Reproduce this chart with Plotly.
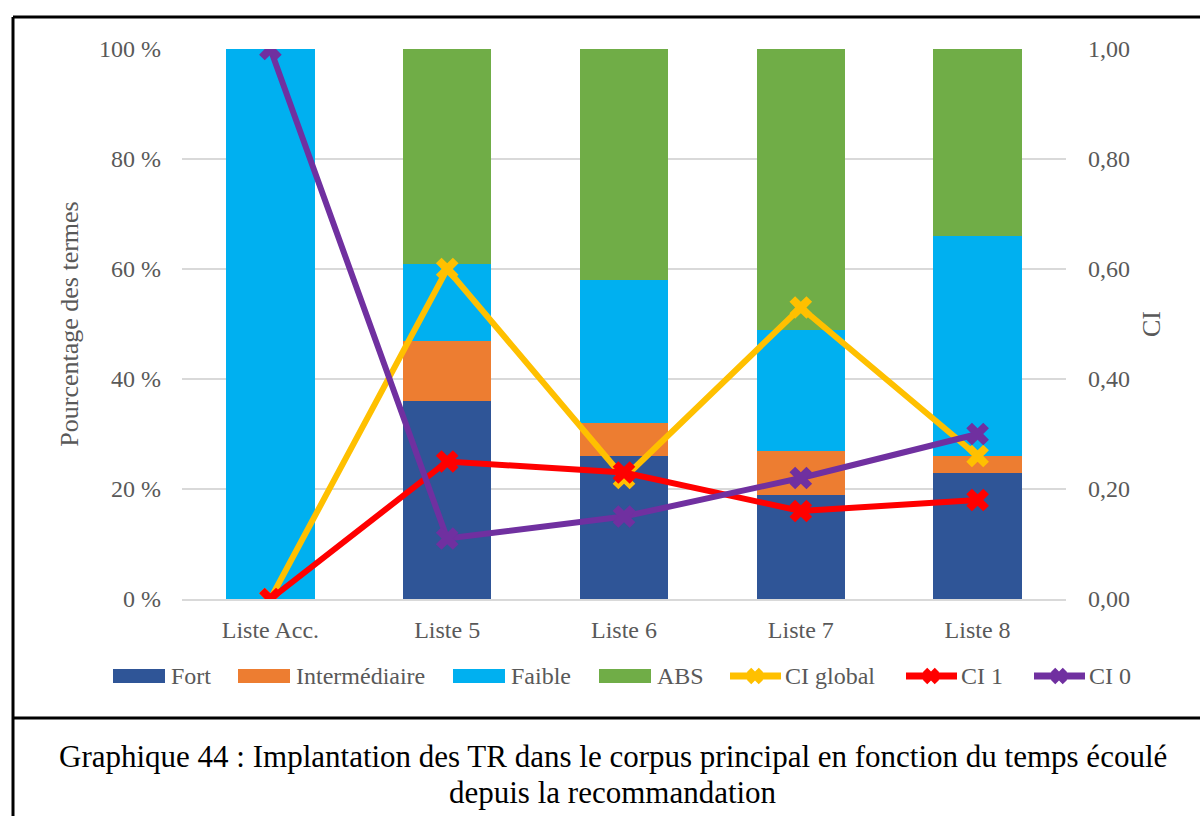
import math
import plotly.graph_objects as go
from plotly.subplots import make_subplots

categories = ["Liste Acc.", "Liste 5", "Liste 6", "Liste 7", "Liste 8"]

fort = [0, 36, 26, 19, 23]
intermediaire = [0, 11, 6, 8, 3]
faible = [100, 14, 26, 22, 40]
abs_ = [0, 39, 42, 51, 34]

ci_global = [0.00, 0.60, 0.22, 0.53, 0.26]
ci_1 = [0.00, 0.25, 0.23, 0.16, 0.18]
ci_0 = [1.00, 0.11, 0.15, 0.22, 0.30]

pct_ticks = [0, 20, 40, 60, 80, 100]
pct_labels = ["0 %", "20 %", "40 %", "60 %", "80 %", "100 %"]
ci_ticks = [0, 0.2, 0.4, 0.6, 0.8, 1.0]
ci_labels = ["0,00", "0,20", "0,40", "0,60", "0,80", "1,00"]

W, H = 1200, 816
L, R, T, B = 182, 1066, 49, 599
FONT = "Liberation Serif"
GREY = "#595959"


def px(x):
    return (x - L) / (R - L)


def py(y):
    return (B - y) / (B - T)


fig = make_subplots(specs=[[{"secondary_y": True}]])

bars = [
    ("Fort", fort, "#2F5597"),
    ("Intermédiaire", intermediaire, "#ED7D31"),
    ("Faible", faible, "#00B0F0"),
    ("ABS", abs_, "#70AD47"),
]
for name, vals, col in bars:
    fig.add_trace(
        go.Bar(x=categories, y=vals, name=name, showlegend=False,
               marker=dict(color=col, line=dict(width=0))),
        secondary_y=False,
    )

lines = [
    ("CI global", ci_global, "#FFC000"),
    ("CI 1", ci_1, "#FF0000"),
    ("CI 0", ci_0, "#7030A0"),
]
for name, vals, col in lines:
    fig.add_trace(
        go.Scatter(
            x=categories, y=vals, name=name, mode="lines+markers", showlegend=False,
            line=dict(color=col, width=6),
            marker=dict(symbol="x", size=20, color=col, line=dict(width=0)),
        ),
        secondary_y=True,
    )

fig.update_layout(
    width=W, height=H,
    margin=dict(l=L, r=W - R, t=T, b=H - B, pad=0, autoexpand=False),
    barmode="stack", bargap=0.5,
    plot_bgcolor="white", paper_bgcolor="white",
    font=dict(family=FONT, size=24, color=GREY),
    showlegend=False,
)

fig.update_xaxes(
    domain=[0, 1],
    showgrid=False, showline=True, linecolor="#d9d9d9", linewidth=1.5,
    ticks="", tickfont=dict(size=24, color=GREY), ticklabelstandoff=8,
    automargin=False,
)
fig.update_yaxes(
    range=[0, 100], tickvals=pct_ticks, ticktext=pct_labels,
    showgrid=True, gridcolor="#d9d9d9", gridwidth=1.5, zeroline=False,
    showline=False, ticks="", tickfont=dict(size=24, color=GREY), ticklabelstandoff=20,
    title=dict(text="Pourcentage des termes", font=dict(size=26, color=GREY), standoff=12),
    automargin=False,
    secondary_y=False,
)
fig.update_yaxes(
    range=[0, 1], tickvals=ci_ticks, ticktext=ci_labels,
    showgrid=False, zeroline=False, showline=False, ticks="",
    tickfont=dict(size=24, color=GREY), ticklabelstandoff=21,
    title=dict(text="CI", font=dict(size=26, color=GREY), standoff=12),
    automargin=False,
    secondary_y=True,
)


# ---- legend row drawn as keys + labels ----
def x_marker_path(half_len=8.5, half_w=3.2):
    pts = [(-half_w, -half_len), (half_w, -half_len), (half_w, -half_w), (half_len, -half_w),
           (half_len, half_w), (half_w, half_w), (half_w, half_len), (-half_w, half_len),
           (-half_w, half_w), (-half_len, half_w), (-half_len, -half_w), (-half_w, -half_w)]
    c = math.sqrt(0.5)
    rot = [((x - y) * c, (x + y) * c) for x, y in pts]
    return "M" + "L".join(f"{x:.2f},{y:.2f}" for x, y in rot) + "Z"


LEG_Y = 676
KEY_W = 54
key_starts = [113, 238, 453, 599, 727, 903, 1031]
entries = [(n, c, "bar") for n, _, c in bars] + [(n, c, "line") for n, _, c in lines]
xmark = x_marker_path()
for (name, col, kind), x0 in zip(entries, key_starts):
    if kind == "bar":
        fig.add_shape(type="rect", xref="paper", yref="paper",
                      x0=px(x0), x1=px(x0 + KEY_W - 2), y0=py(LEG_Y - 7), y1=py(LEG_Y + 7),
                      fillcolor=col, line=dict(width=0))
    else:
        fig.add_shape(type="line", xref="paper", yref="paper",
                      x0=px(x0 + 3), x1=px(x0 + KEY_W), y0=py(LEG_Y), y1=py(LEG_Y),
                      line=dict(color=col, width=7))
        fig.add_shape(type="path", xref="paper", yref="paper",
                      xsizemode="pixel", ysizemode="pixel",
                      xanchor=px(x0 + KEY_W / 2 + 1), yanchor=py(LEG_Y),
                      path=xmark, fillcolor=col, line=dict(width=0))
    fig.add_annotation(text=name, xref="paper", yref="paper",
                       x=px(x0 + KEY_W + 2), y=py(LEG_Y), xanchor="left", yanchor="middle",
                       showarrow=False, font=dict(family=FONT, size=24, color=GREY))

# frame around the chart and the caption
frame = dict(color="black", width=3)
fig.add_shape(type="line", xref="paper", yref="paper",
              x0=px(13), x1=px(1205), y0=py(17), y1=py(17), line=frame)
fig.add_shape(type="line", xref="paper", yref="paper",
              x0=px(13), x1=px(13), y0=py(17), y1=py(820), line=frame)
fig.add_shape(type="line", xref="paper", yref="paper",
              x0=px(13), x1=px(1205), y0=py(718), y1=py(718), line=frame)

caption = [
    ("Graphique 44 : Implantation des TR dans le corpus principal en fonction du temps écoulé", 756),
    ("depuis la recommandation", 792),
]
for text, yc in caption:
    fig.add_annotation(
        text=text, xref="paper", yref="paper", x=px(613), y=py(yc),
        xanchor="center", yanchor="middle", showarrow=False,
        font=dict(family=FONT, size=31, color="black"),
    )

fig.write_html("out.html")
